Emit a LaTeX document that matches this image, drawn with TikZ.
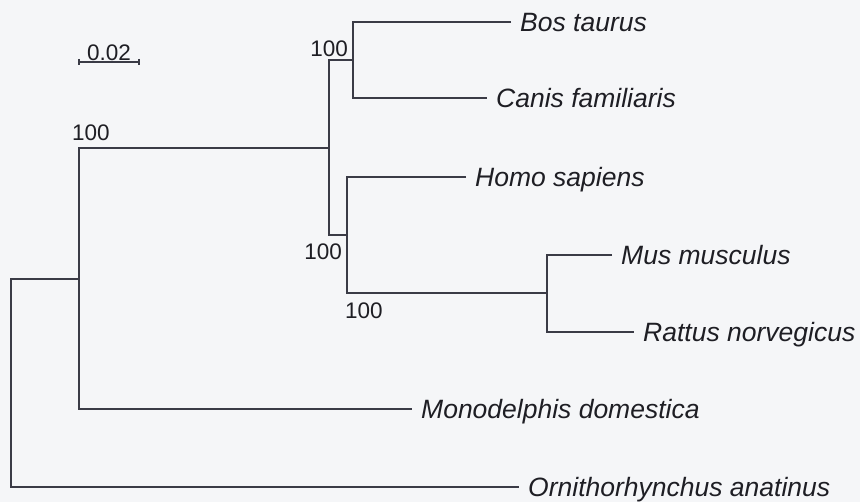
\documentclass[tikz,border=0pt]{standalone}
\usepackage{fontspec}
\setmainfont{Liberation Sans}
\usetikzlibrary{positioning}
\definecolor{branch}{RGB}{58,59,70}
\definecolor{ink}{RGB}{30,30,36}
\definecolor{paper}{RGB}{245,246,248}

\begin{document}
\begin{tikzpicture}[
    x=1pt, y=-1pt,
    edge/.style={draw=branch, line width=1.2pt},
    leaf/.style={anchor=west, inner xsep=9pt, inner ysep=0pt, text=ink,
                 font=\fontsize{26.5}{30}\selectfont\itshape,
                 text height=19pt, text depth=0pt},
    boot/.style={inner sep=0pt, text=ink, font=\fontsize{22.5}{26}\selectfont,
                 text height=16pt, text depth=0pt},
]

% Canvas
\fill[paper] (0,0) rectangle (860,502);
\useasboundingbox (0,0) rectangle (860,502);

% Internal nodes
\coordinate (root) at (11,382);
\coordinate (n1) at (79,279);
\coordinate (n2) at (329,148);
\coordinate (n3) at (353,60);
\coordinate (n4) at (347,235);
\coordinate (n5) at (547,293);

% Species
\node[leaf] (bos)    at (511,22)  {Bos taurus};
\node[leaf] (canis)  at (487,98)  {Canis familiaris};
\node[leaf] (homo)   at (466,177) {Homo sapiens};
\node[leaf] (mus)    at (612,255) {Mus musculus};
\node[leaf] (rattus) at (634,332) {Rattus norvegicus};
\node[leaf] (mono)   at (412,409) {Monodelphis domestica};
\node[leaf] (orni)   at (519,487) {Ornithorhynchus anatinus};

% Branches: parent / upper child / lower child
\foreach \p/\a/\b in {root/n1/orni, n1/n2/mono, n2/n3/n4,
                      n3/bos/canis, n4/homo/n5, n5/mus/rattus}
    \draw[edge] (\a) -| (\p) |- (\b);

% Bootstrap values
\node[boot, anchor=south west, xshift=-7pt, yshift=7.5pt] (b2) at (n1 |- n2) {100};
\node[boot, above left=3.5pt and 5pt of n3] (b3) {100};
\node[boot, below left=8.5pt and 5pt of n4] (b4) {100};
\node[boot, anchor=north west, xshift=-2pt, yshift=-9.5pt] (b5) at (n4 |- n5) {100};

% Scale bar
\coordinate (sbl) at (79,62);
\coordinate (sbr) at (139,62);
\draw[edge] (sbl) -- (sbr);
\draw[edge] ([yshift=3pt]sbl) -- ([yshift=-3pt]sbl);
\draw[edge] ([yshift=3pt]sbr) -- ([yshift=-3pt]sbr);
\path (sbl) -- (sbr) node[midway, boot, above=1.5pt] (scale) {0.02};

\end{tikzpicture}
\end{document}
